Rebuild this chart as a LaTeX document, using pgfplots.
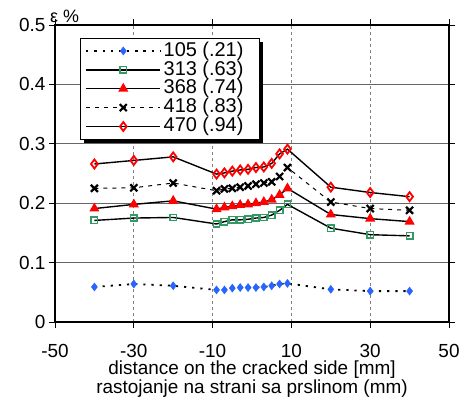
\documentclass[border=0pt]{standalone}
\usepackage{pgfplots}
\pgfplotsset{compat=1.18}
\usepackage{pgfplotstable}
\usepackage{fontspec}
\setmainfont{Liberation Sans}
\definecolor{cblue}{RGB}{40,100,255}
\definecolor{cgreen}{RGB}{50,155,100}
\definecolor{cred}{RGB}{255,0,0}
\pgfplotstableread{
x s105 s313 s368 s418 s470
-40 0.059 0.171 0.191 0.225 0.266
-30 0.064 0.175 0.198 0.226 0.272
-20 0.061 0.176 0.204 0.234 0.278
-9 0.054 0.165 0.190 0.221 0.249
-7 0.054 0.169 0.193 0.224 0.251
-5 0.057 0.172 0.195 0.225 0.254
-3 0.058 0.172 0.197 0.227 0.256
-1 0.058 0.173 0.198 0.229 0.257
1 0.058 0.175 0.200 0.232 0.260
3 0.059 0.176 0.202 0.234 0.261
5 0.061 0.180 0.206 0.236 0.267
7 0.064 0.188 0.214 0.245 0.283
9 0.065 0.198 0.225 0.260 0.291
20 0.055 0.158 0.181 0.202 0.227
30 0.052 0.147 0.174 0.191 0.218
40 0.052 0.145 0.169 0.188 0.211
}\datatable
\begin{document}
\begin{tikzpicture}
\begin{axis}[
  scale only axis,
  width=394bp, height=297bp,
  xmin=-50, xmax=50, ymin=0, ymax=0.5,
  xtick={-50,-30,-10,10,30,50},
  ytick={0,0.1,0.2,0.3,0.4,0.5},
  yticklabel style={/pgf/number format/fixed,/pgf/number format/precision=1},
  /pgf/number format/assume math mode=true,
  ticklabel style={font=\fontsize{19}{21}\selectfont},
  xticklabel style={anchor=north, inner sep=0pt, yshift=-16bp},
  tick align=outside,
  major tick length=6bp,
  tick style={black, line width=0.8pt},
  axis line style={line width=3pt},
  xmajorgrids, ymajorgrids,
  x grid style={gray, line width=0.7pt, dash pattern=on 3pt off 3pt},
  y grid style={gray!80!black, line width=0.8pt},
  xlabel={distance on the cracked side [mm]\\rastojanje na strani sa prslinom (mm)},
  xlabel style={at={(axis description cs:0.5,0)}, anchor=north, inner sep=0pt, yshift=-39bp,
    align=center, font=\fontsize{19}{15.5}\selectfont},
  legend style={name=leg, at={(0.0635,0.956)}, anchor=north west, draw=black, line width=0.8pt, fill=white,
    font=\fontsize{20}{19}\selectfont, inner xsep=5pt, inner ysep=3pt, row sep=0pt,
    nodes={text height=13.5bp, text depth=3bp, inner ysep=1.2bp, inner xsep=2.5bp}},
  legend cell align=left,
  legend image code/.code={\draw[mark repeat=2,mark phase=2] plot coordinates {(0bp,0bp) (37bp,0bp) (74bp,0bp)};},
  clip=false,
]
\addplot[black, line width=1.8pt, dash pattern=on 2.2pt off 6pt, mark=diamond*, mark size=4pt,
  mark options={solid, fill=cblue, draw=cblue, line width=0.5pt}] table[x=x,y=s105] {\datatable};
\addlegendentry{105 (.21)\hspace*{8bp}}
\addplot[black, line width=1.4pt, mark=square, mark size=3.2pt,
  mark options={solid, draw=cgreen, fill=white, line width=1.5pt}] table[x=x,y=s313] {\datatable};
\addlegendentry{313 (.63)\hspace*{8bp}}
\addplot[black, line width=1.4pt, mark=triangle*, mark size=4.5pt,
  mark options={solid, draw=cred, fill=cred}] table[x=x,y=s368] {\datatable};
\addlegendentry{368 (.74)\hspace*{8bp}}
\addplot[black, line width=1pt, dash pattern=on 4pt off 5pt, mark=x, mark size=5pt,
  mark options={solid, draw=black, line width=2.2pt}] table[x=x,y=s418] {\datatable};
\addlegendentry{418 (.83)\hspace*{8bp}}
\addplot[black, line width=1.4pt, mark=diamond, mark size=4.5pt,
  mark options={solid, draw=cred, fill=white, line width=1.8pt}] table[x=x,y=s470] {\datatable};
\addlegendentry{470 (.94)\hspace*{8bp}}
\node[anchor=base west, font=\fontsize{18}{20}\selectfont, inner sep=0pt] at ([xshift=-5bp,yshift=2.5bp]rel axis cs:0,1) {ε~\%};
\end{axis}
\fill[black] ([xshift=4bp]leg.south west) rectangle ([xshift=4bp,yshift=-4bp]leg.south east);
\fill[black] ([yshift=-4bp]leg.north east) rectangle ([xshift=4bp,yshift=-4bp]leg.south east);
\pgfresetboundingbox
\path ([xshift=-55bp,yshift=-78bp]current axis.south west) rectangle ([xshift=14bp,yshift=25bp]current axis.north east);
\end{tikzpicture}
\end{document}
